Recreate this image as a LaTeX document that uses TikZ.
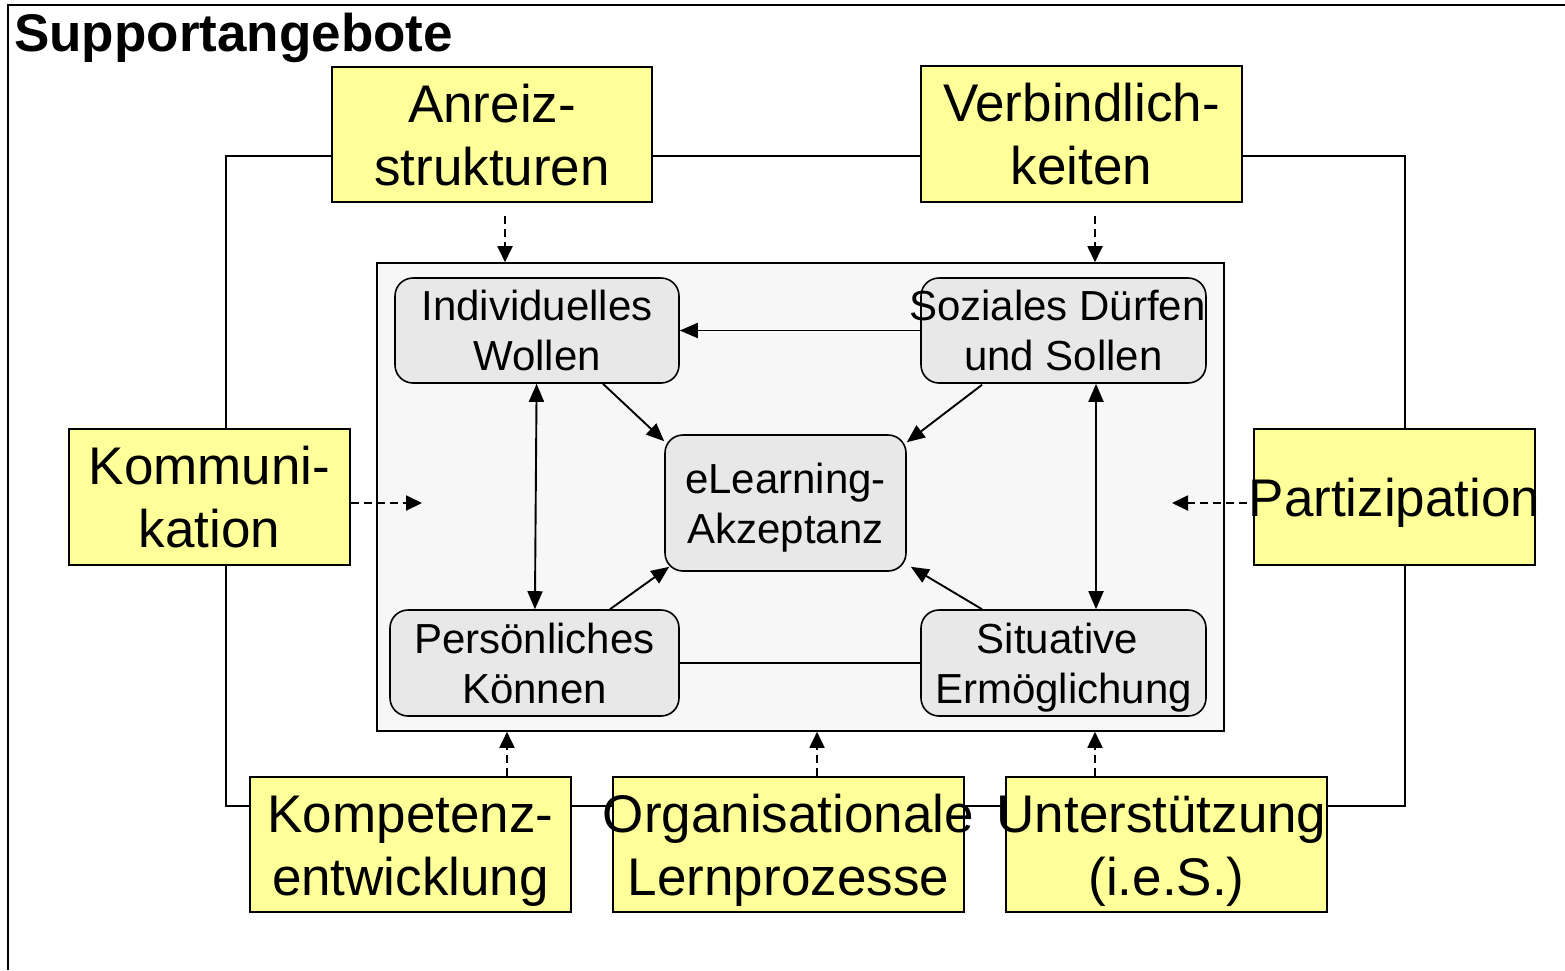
\documentclass[tikz,border=0pt]{standalone}
\usepackage{fontspec}
\setmainfont{Liberation Sans}
\usetikzlibrary{arrows.meta}
\newcommand\ctrbox[1]{\makebox[0pt]{\raisebox{0pt}[0.72em][0pt]{#1}}}
\definecolor{yel}{HTML}{FFFF99}
\definecolor{innerfill}{HTML}{F7F7F7}
\definecolor{nodefill}{HTML}{E8E8E8}
\begin{document}
\begin{tikzpicture}[x=1pt,y=-1pt,
  ybox/.style={draw=black, line width=1.6pt, fill=yel, inner sep=0pt, align=center,
    font=\fontsize{53}{63}\selectfont},
  rbox/.style={draw=black, line width=1.6pt, fill=nodefill, rounded corners=18pt,
    inner sep=0pt, align=center, font=\fontsize{42}{50}\selectfont},
  conn/.style={line width=1.9pt, draw=black},
  arr/.style={conn, -{Triangle[length=18pt,width=15pt]}},
  arrtwo/.style={conn, {Triangle[length=18pt,width=15pt]}-{Triangle[length=18pt,width=15pt]}},
  darr/.style={conn, dash pattern=on 8pt off 5pt, -{Triangle[length=16pt,width=15pt]}}
]
\useasboundingbox (0,0) rectangle (1565,970);
% outer frame (top and left edges visible)
\draw[line width=2.2pt] (8,970) -- (8,5) -- (1565,5);
\node[anchor=base west, inner sep=0pt, font=\fontsize{53}{63}\selectfont\bfseries] (title) at (14,51) {Supportangebote};

% loop connecting the support offers
\coordinate (lnw) at (226,156);
\coordinate (lne) at (1405,156);
\coordinate (lse) at (1405,806);
\coordinate (lsw) at (226,806);
\draw[conn] (lnw) -- (lne) -- (lse) -- (lsw) -- cycle;

% inner box
\node[draw=black, line width=1.6pt, fill=innerfill, minimum width=847, minimum height=468, inner sep=0pt] (inner) at (800.5,497) {};

% yellow boxes
\node[ybox, minimum width=320, minimum height=135] (anreiz) at (492,134.5) {\ctrbox{Anreiz-}\\\ctrbox{strukturen}};
\node[ybox, minimum width=321, minimum height=136] (verb) at (1081.5,134) {\ctrbox{Verbindlich-}\\\ctrbox{keiten}};
\node[ybox, minimum width=281, minimum height=136] (kommun) at (209.5,497) {\ctrbox{Kommuni-}\\\ctrbox{kation}};
\node[ybox, minimum width=281, minimum height=136] (partiz) at (1394.5,497) {\ctrbox{Partizipation}};
\node[ybox, minimum width=321, minimum height=135] (kompet) at (410.5,844.5) {\ctrbox{Kompetenz-}\\\ctrbox{entwicklung}};
\node[ybox, minimum width=351, minimum height=135] (orga) at (788.5,844.5) {\ctrbox{Organisationale}\\\ctrbox{Lernprozesse}};
\node[ybox, minimum width=321, minimum height=135] (unter) at (1166.5,844.5) {\ctrbox{\hspace*{-10pt}Unterstützung}\\\ctrbox{(i.e.S.)}};

% rounded nodes
\node[rbox, minimum width=284, minimum height=105] (wollen) at (537,330.5) {\ctrbox{Individuelles}\\\ctrbox{Wollen}};
\node[rbox, minimum width=285, minimum height=105] (sozial) at (1063.5,330.5) {\ctrbox{\hspace*{-12pt}Soziales Dürfen}\\\ctrbox{und Sollen}};
\node[rbox, minimum width=241, minimum height=136] (elearn) at (785.5,503) {\ctrbox{eLearning-}\\\ctrbox{Akzeptanz}};
\node[rbox, minimum width=289, minimum height=106] (koennen) at (534.5,663) {\ctrbox{Persönliches}\\\ctrbox{Können}};
\node[rbox, minimum width=285, minimum height=106] (situ) at (1063.5,663) {\ctrbox{\hspace*{-12pt}Situative}\\\ctrbox{Ermöglichung}};

% connectors inside
\draw[arr] (sozial) -- (wollen);
\draw[arrtwo] (wollen) -- (koennen);
\draw[arrtwo] ([shift={(32.5,0)}]sozial.south) -- ([shift={(32.5,0)}]situ.north);
\draw[conn] (koennen) -- (situ);
\draw[arr] ([shift={(66,0)}]wollen.south) -- ([shift={(0,7)}]elearn.north west);
\draw[arr] ([shift={(-81.5,1)}]sozial.south) -- ([shift={(0,8)}]elearn.north east);
\draw[arr] ([shift={(75.5,0)}]koennen.north) -- ([shift={(5,-5)}]elearn.south west);
\draw[arr] ([shift={(-81.5,0)}]situ.north) -- ([shift={(4,-5)}]elearn.south east);

% dashed influence arrows
\coordinate (kommunEnd) at (422,503);
\coordinate (partizEnd) at (1172,503);
\draw[darr] ([shift={(13,13)}]anreiz.south) -- ([shift={(13,0)}]anreiz.south |- inner.north);
\draw[darr] ([shift={(13.5,13)}]verb.south) -- ([shift={(13.5,0)}]verb.south |- inner.north);
\draw[darr] ([shift={(0,6)}]kommun.east) -- (kommunEnd);
\draw[darr] ([shift={(-6,6)}]partiz.west) -- (partizEnd);
\draw[darr] ([shift={(96.5,0)}]kompet.north) -- ([shift={(96.5,0)}]kompet.north |- inner.south);
\draw[darr] ([shift={(28.5,0)}]orga.north) -- ([shift={(28.5,0)}]orga.north |- inner.south);
\draw[darr] ([shift={(-71.5,0)}]unter.north) -- ([shift={(-71.5,0)}]unter.north |- inner.south);
\end{tikzpicture}
\end{document}
